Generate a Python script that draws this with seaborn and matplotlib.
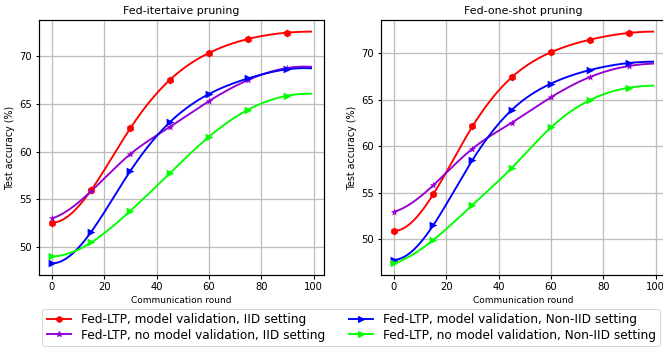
import numpy as np
import pandas as pd
import matplotlib
matplotlib.use("Agg")
import matplotlib.pyplot as plt
from matplotlib.lines import Line2D
import seaborn as sns

rounds = [0, 15, 30, 45, 60, 75, 90, 99]
marked = 7  # markers only on the first 7 rounds

titles = ["Fed-itertaive pruning", "Fed-one-shot pruning"]
labels = ["Fed-LTP, model validation, IID setting",
          "Fed-LTP, no model validation, IID setting",
          "Fed-LTP, model validation, Non-IID setting",
          "Fed-LTP, no model validation, Non-IID setting"]
colors = ["red", "darkviolet", "blue", "lime"]
markers = ["h", "*", ">", ">"]

iter_val_iid = [52.55, 55.98, 62.48, 67.52, 70.35, 71.82, 72.48, 72.59]
iter_noval_iid = [53.0, 55.87, 59.76, 62.59, 65.31, 67.52, 68.78, 68.9]
iter_val_noniid = [48.29, 51.6, 58.0, 63.08, 66.05, 67.69, 68.64, 68.74]
iter_noval_noniid = [49.02, 50.49, 53.81, 57.73, 61.57, 64.41, 65.87, 66.08]

oneshot_val_iid = [50.9, 54.84, 62.15, 67.42, 70.11, 71.47, 72.19, 72.33]
oneshot_noval_iid = [52.97, 55.81, 59.75, 62.54, 65.27, 67.46, 68.64, 68.89]
oneshot_val_noniid = [47.81, 51.51, 58.53, 63.91, 66.74, 68.21, 68.96, 69.1]
oneshot_noval_noniid = [47.42, 49.93, 53.69, 57.67, 62.04, 64.98, 66.31, 66.52]

panels = [[iter_val_iid, iter_noval_iid, iter_val_noniid, iter_noval_noniid],
          [oneshot_val_iid, oneshot_noval_iid, oneshot_val_noniid, oneshot_noval_noniid]]


def spline(x, y, xs):
    x = np.asarray(x, float); y = np.asarray(y, float)
    n = len(x); h = np.diff(x)
    A = np.zeros((n, n)); b = np.zeros(n)
    A[0, 0], A[0, 1], A[0, 2] = -h[1], h[0] + h[1], -h[0]
    A[-1, -3], A[-1, -2], A[-1, -1] = -h[-1], h[-2] + h[-1], -h[-2]
    for i in range(1, n - 1):
        A[i, i - 1] = h[i - 1]; A[i, i] = 2 * (h[i - 1] + h[i]); A[i, i + 1] = h[i]
        b[i] = 6 * ((y[i + 1] - y[i]) / h[i] - (y[i] - y[i - 1]) / h[i - 1])
    M = np.linalg.solve(A, b)
    idx = np.clip(np.searchsorted(x, xs) - 1, 0, n - 2)
    x0, x1 = x[idx], x[idx + 1]; hh = x1 - x0
    return (M[idx] * (x1 - xs) ** 3 / (6 * hh) + M[idx + 1] * (xs - x0) ** 3 / (6 * hh)
            + (y[idx] / hh - M[idx] * hh / 6) * (x1 - xs)
            + (y[idx + 1] / hh - M[idx + 1] * hh / 6) * (xs - x0))


fig = plt.figure(figsize=(663 / 72, 349 / 72), dpi=72)
W, H = 663, 349
axes = [fig.add_axes([39 / W, 74 / H, 285 / W, 255 / H]),
        fig.add_axes([381 / W, 74 / H, 285 / W, 255 / H])]

xs = np.linspace(rounds[0], rounds[-1], 300)
for ax, title, series in zip(axes, titles, panels):
    for vals, c, m in zip(series, colors, markers):
        sns.lineplot(x=xs, y=spline(rounds, vals, xs), color=c, lw=1.9, ax=ax)
        sns.scatterplot(x=rounds[:marked], y=vals[:marked], color=c, marker=m,
                        s=60, linewidth=0, ax=ax, zorder=3)
    ax.set_title(title, fontsize=11)
    ax.set_xlabel("Communication round", fontsize=9)
    ax.set_ylabel("Test accuracy (%)", fontsize=9.5)
    ax.set_xticks([0, 20, 40, 60, 80, 100])
    ax.tick_params(labelsize=10, width=1.1)
    ax.grid(True, color="#bdbdbd", lw=1.3)
    for sp in ax.spines.values():
        sp.set_linewidth(1.2)

handles = [Line2D([], [], color=c, marker=m, lw=1.9, markersize=6)
           for c, m in zip(colors, markers)]
fig.legend(handles, labels, ncol=2, fontsize=12.1, loc="upper left",
           bbox_to_anchor=(42.5 / W, 1 - 309 / H), borderaxespad=0,
           labelspacing=0.2, borderpad=0.35, frameon=True)

fig.savefig("out.png", dpi=72)
